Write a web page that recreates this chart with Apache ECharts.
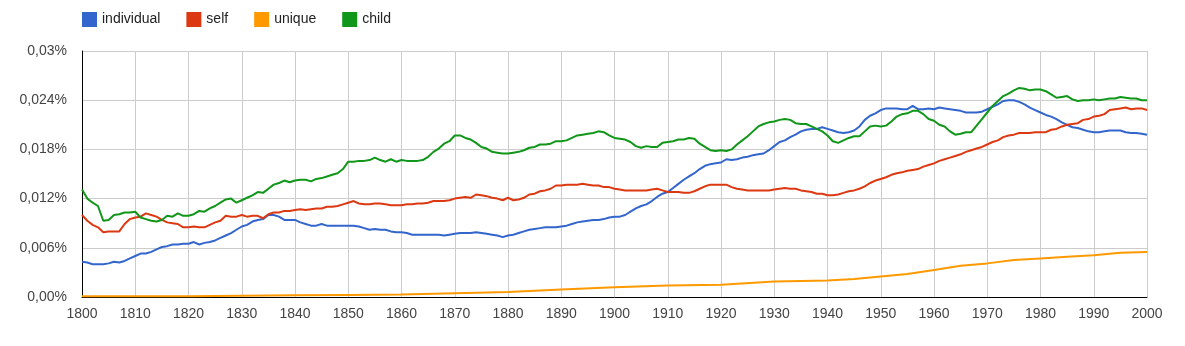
<!DOCTYPE html>
<html>
<head>
<meta charset="utf-8">
<script src="https://cdn.jsdelivr.net/npm/echarts@6/dist/echarts.min.js"></script>
<style>html,body{margin:0;padding:0;background:#fff}#c{width:1185px;height:346px}</style>
</head>
<body>
<div id="c"></div>
<script>
const startYear = 1800;
const individual = [
0.0043,0.0042,0.0040,0.0040,0.0040,0.0041,0.0043,0.0042,0.0044,0.0047,
0.0050,0.0053,0.0053,0.0055,0.0058,0.0061,0.0062,0.0064,0.0064,0.0065,
0.0065,0.0067,0.0064,0.0066,0.0067,0.0069,0.0072,0.0075,0.0078,0.0082,
0.0086,0.0088,0.0092,0.0094,0.0095,0.0100,0.0100,0.0098,0.0094,0.0094,
0.0094,0.0091,0.0089,0.0087,0.0087,0.0089,0.0087,0.0087,0.0087,0.0087,
0.0087,0.0087,0.0086,0.0084,0.0082,0.0083,0.0082,0.0082,0.0080,0.0079,
0.0079,0.0078,0.0076,0.0076,0.0076,0.0076,0.0076,0.0076,0.0075,0.0076,
0.0077,0.0078,0.0078,0.0078,0.0079,0.0078,0.0077,0.0076,0.0075,0.0073,
0.0075,0.0076,0.0078,0.0080,0.0082,0.0083,0.0084,0.0085,0.0085,0.0085,
0.0086,0.0087,0.0089,0.0091,0.0092,0.0093,0.0094,0.0094,0.0095,0.0097,
0.0098,0.0098,0.0100,0.0104,0.0108,0.0111,0.0113,0.0117,0.0122,0.0126,
0.0128,0.0133,0.0138,0.0143,0.0147,0.0151,0.0156,0.0160,0.0162,0.0163,
0.0164,0.0168,0.0167,0.0168,0.0170,0.0171,0.0173,0.0174,0.0175,0.0179,
0.0184,0.0189,0.0191,0.0195,0.0198,0.0202,0.0204,0.0205,0.0205,0.0207,
0.0205,0.0203,0.0201,0.0200,0.0201,0.0203,0.0208,0.0216,0.0221,0.0224,
0.0228,0.0230,0.0230,0.0230,0.0229,0.0229,0.0233,0.0229,0.0229,0.0230,
0.0229,0.0231,0.0230,0.0229,0.0228,0.0227,0.0225,0.0225,0.0225,0.0226,
0.0229,0.0232,0.0235,0.0239,0.0240,0.0240,0.0238,0.0235,0.0231,0.0228,
0.0225,0.0222,0.0220,0.0217,0.0213,0.0210,0.0207,0.0206,0.0204,0.0202,
0.0201,0.0201,0.0202,0.0203,0.0203,0.0203,0.0201,0.0200,0.0200,0.0199,
0.0198];
const self = [
0.0100,0.0093,0.0088,0.0085,0.0079,0.0080,0.0080,0.0080,0.0089,0.0095,
0.0097,0.0098,0.0102,0.0100,0.0098,0.0094,0.0091,0.0090,0.0089,0.0085,
0.0085,0.0086,0.0085,0.0085,0.0088,0.0091,0.0093,0.0099,0.0098,0.0098,
0.0100,0.0098,0.0099,0.0099,0.0096,0.0101,0.0103,0.0103,0.0105,0.0105,
0.0106,0.0107,0.0106,0.0107,0.0108,0.0108,0.0110,0.0110,0.0111,0.0113,
0.0115,0.0117,0.0114,0.0113,0.0113,0.0114,0.0114,0.0113,0.0112,0.0112,
0.0112,0.0113,0.0113,0.0114,0.0114,0.0115,0.0117,0.0117,0.0117,0.0118,
0.0120,0.0121,0.0122,0.0121,0.0125,0.0124,0.0123,0.0121,0.0120,0.0118,
0.0121,0.0118,0.0119,0.0121,0.0125,0.0126,0.0129,0.0130,0.0132,0.0136,
0.0136,0.0137,0.0137,0.0137,0.0138,0.0137,0.0136,0.0136,0.0134,0.0134,
0.0132,0.0131,0.0130,0.0130,0.0130,0.0130,0.0130,0.0131,0.0132,0.0130,
0.0128,0.0128,0.0128,0.0127,0.0127,0.0129,0.0132,0.0135,0.0137,0.0137,
0.0137,0.0137,0.0134,0.0132,0.0131,0.0130,0.0130,0.0130,0.0130,0.0130,
0.0131,0.0132,0.0133,0.0132,0.0132,0.0130,0.0129,0.0128,0.0126,0.0126,
0.0124,0.0124,0.0125,0.0127,0.0129,0.0130,0.0132,0.0135,0.0139,0.0142,
0.0144,0.0146,0.0149,0.0151,0.0152,0.0154,0.0155,0.0156,0.0159,0.0161,
0.0163,0.0166,0.0168,0.0170,0.0172,0.0174,0.0177,0.0179,0.0181,0.0183,
0.0186,0.0189,0.0191,0.0195,0.0197,0.0198,0.0200,0.0200,0.0200,0.0201,
0.0201,0.0201,0.0204,0.0205,0.0208,0.0210,0.0211,0.0212,0.0216,0.0217,
0.0220,0.0221,0.0223,0.0228,0.0229,0.0230,0.0231,0.0229,0.0230,0.0230,
0.0228];
const child = [
0.0131,0.0120,0.0115,0.0111,0.0093,0.0094,0.0100,0.0101,0.0103,0.0103,
0.0104,0.0097,0.0095,0.0093,0.0092,0.0094,0.0099,0.0098,0.0102,0.0099,
0.0099,0.0101,0.0105,0.0104,0.0108,0.0111,0.0115,0.0119,0.0120,0.0115,
0.0118,0.0121,0.0124,0.0128,0.0127,0.0132,0.0137,0.0139,0.0142,0.0140,
0.0142,0.0143,0.0143,0.0141,0.0144,0.0145,0.0147,0.0149,0.0151,0.0156,
0.0165,0.0165,0.0166,0.0166,0.0167,0.0170,0.0167,0.0165,0.0168,0.0165,
0.0167,0.0166,0.0166,0.0166,0.0167,0.0171,0.0177,0.0181,0.0187,0.0190,
0.0197,0.0197,0.0194,0.0192,0.0188,0.0183,0.0181,0.0177,0.0176,0.0175,
0.0175,0.0176,0.0177,0.0179,0.0182,0.0183,0.0186,0.0186,0.0187,0.0190,
0.0190,0.0191,0.0194,0.0197,0.0198,0.0199,0.0200,0.0202,0.0201,0.0197,
0.0194,0.0193,0.0192,0.0189,0.0184,0.0182,0.0184,0.0183,0.0183,0.0188,
0.0189,0.0190,0.0192,0.0192,0.0194,0.0193,0.0187,0.0183,0.0179,0.0178,
0.0179,0.0178,0.0180,0.0186,0.0191,0.0196,0.0202,0.0208,0.0211,0.0213,
0.0214,0.0216,0.0217,0.0216,0.0212,0.0211,0.0211,0.0208,0.0205,0.0202,
0.0197,0.0190,0.0188,0.0191,0.0194,0.0196,0.0196,0.0202,0.0208,0.0209,
0.0208,0.0209,0.0214,0.0220,0.0223,0.0224,0.0227,0.0227,0.0223,0.0217,
0.0215,0.0210,0.0208,0.0202,0.0198,0.0199,0.0201,0.0201,0.0209,0.0217,
0.0225,0.0233,0.0239,0.0245,0.0248,0.0252,0.0255,0.0254,0.0252,0.0253,
0.0253,0.0251,0.0247,0.0243,0.0244,0.0245,0.0241,0.0239,0.0240,0.0240,
0.0241,0.0240,0.0241,0.0242,0.0242,0.0244,0.0243,0.0242,0.0242,0.0240,
0.0240];
const uniqueYears = [1800,1810,1820,1830,1840,1850,1860,1870,1880,1890,1900,1910,1920,1930,1940,1945,1950,1955,1960,1965,1970,1975,1980,1985,1990,1995,2000];
const uniqueValues = [0.0001,0.0001,0.0001,0.00015,0.0002,0.00025,0.0003,0.00045,0.0006,0.0009,0.0012,0.0014,0.0015,0.0019,0.0020,0.0022,0.0025,0.0028,0.0033,0.0038,0.0041,0.0045,0.0047,0.0049,0.0051,0.0054,0.0055];

const pairs = arr => arr.map((v, i) => [startYear + i, v]);
const font = 'Arial, "Liberation Sans", sans-serif';
const chart = echarts.init(document.getElementById('c'), null, {renderer: 'canvas'});
const mk = (name, data, color) => ({
  name, type: 'line', data, showSymbol: false, symbol: 'none',
  lineStyle: {width: 2, color}, itemStyle: {color}, animation: false
});
chart.setOption({
  animation: false,
  textStyle: {fontFamily: font},
  legend: {
    left: 82, top: 12, padding: 0, itemWidth: 15, itemHeight: 15, itemGap: 26, icon: 'rect',
    textStyle: {fontFamily: font, fontSize: 14, color: '#222'},
    data: ['individual', 'self', 'unique', 'child']
  },
  grid: {left: 82, right: 38, top: 51, bottom: 49, containLabel: false},
  xAxis: {
    type: 'value', min: 1800, max: 2000, interval: 10,
    axisLine: {show: true, lineStyle: {color: '#000', width: 1}},
    axisTick: {show: false},
    axisLabel: {color: '#444', fontSize: 14, fontFamily: font, margin: 10, formatter: v => String(v)},
    splitLine: {show: true, lineStyle: {color: '#ccc', width: 1}}
  },
  yAxis: {
    type: 'value', min: 0, max: 0.03, interval: 0.006,
    axisLine: {show: true, lineStyle: {color: '#000', width: 1}},
    axisTick: {show: false},
    axisLabel: {color: '#444', fontSize: 14, fontFamily: font, margin: 15,
      formatter: v => v === 0 ? '0,00%' : String(+v.toFixed(3)).replace('.', ',') + '%'},
    splitLine: {show: true, lineStyle: {color: '#ccc', width: 1}}
  },
  series: [
    mk('individual', pairs(individual), '#3366cc'),
    mk('self', pairs(self), '#dc3912'),
    mk('unique', uniqueYears.map((y, i) => [y, uniqueValues[i]]), '#ff9900'),
    mk('child', pairs(child), '#109618')
  ]
});
</script>
</body>
</html>
